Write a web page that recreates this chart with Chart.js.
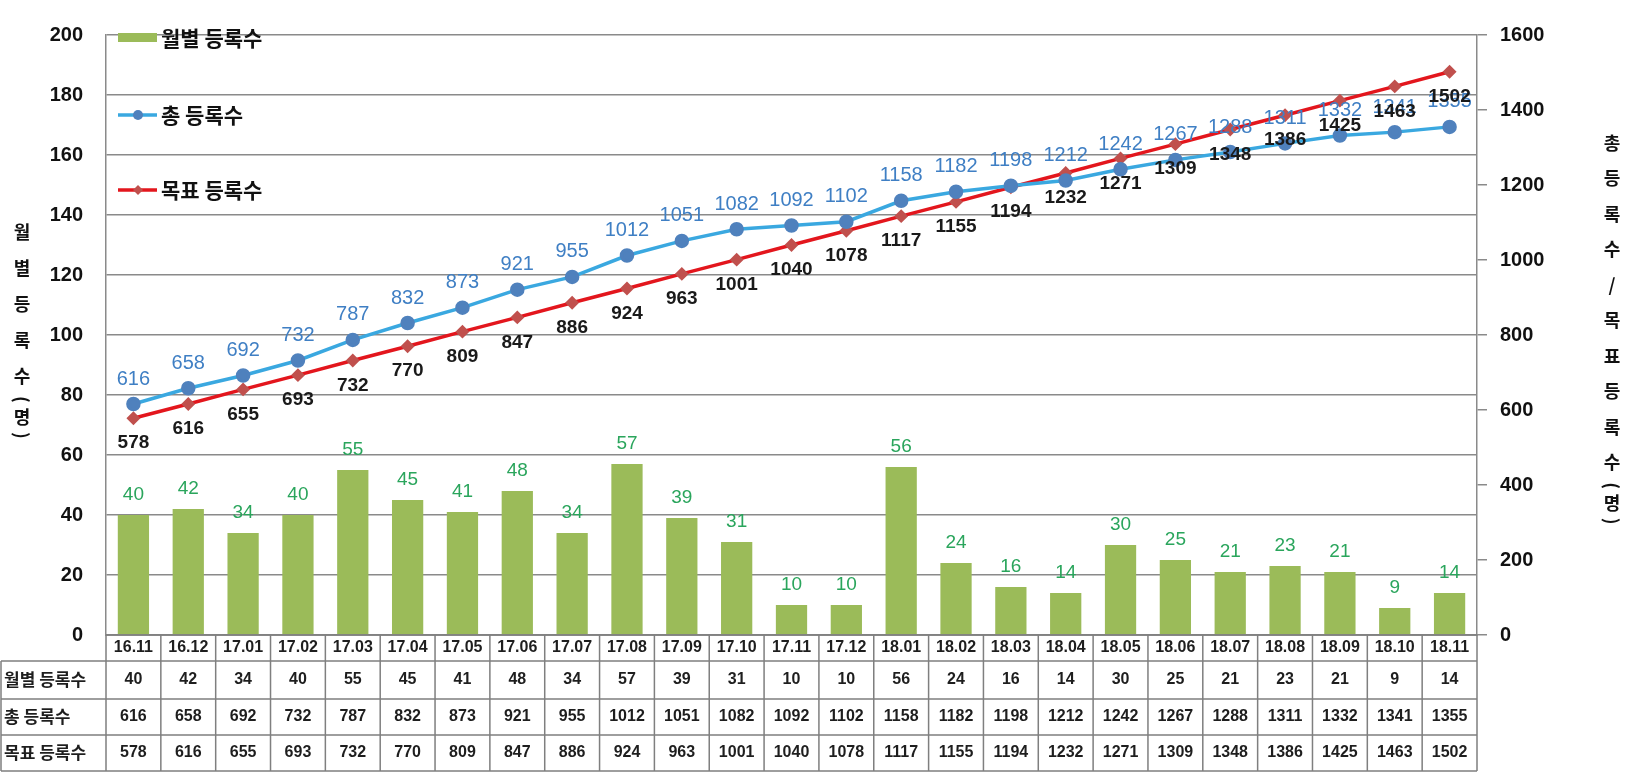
<!DOCTYPE html>
<html>
<head>
<meta charset="utf-8">
<script src="https://cdn.jsdelivr.net/npm/chart.js@4.4.0/dist/chart.umd.min.js"></script>
<style>
  body { margin: 0; background: #fff; }
  .chartBox { width: 1633px; height: 772px; position: relative; }
</style>
</head>
<body>
<div class="chartBox"><canvas id="myChart"></canvas></div>
<script>
const months = ['16.11', '16.12', '17.01', '17.02', '17.03', '17.04', '17.05', '17.06', '17.07', '17.08', '17.09', '17.10', '17.11', '17.12',
    '18.01', '18.02', '18.03', '18.04', '18.05', '18.06', '18.07', '18.08', '18.09', '18.10', '18.11'];
const monthly = [40, 42, 34, 40, 55, 45, 41, 48, 34, 57, 39, 31, 10, 10, 56, 24, 16, 14, 30, 25, 21, 23, 21, 9, 14];
const total = [616, 658, 692, 732, 787, 832, 873, 921, 955, 1012, 1051, 1082, 1092, 1102, 1158, 1182, 1198, 1212, 1242, 1267, 1288, 1311, 1332, 1341, 1355];
const target = [578, 616, 655, 693, 732, 770, 809, 847, 886, 924, 963, 1001, 1040, 1078, 1117, 1155, 1194, 1232, 1271, 1309, 1348, 1386, 1425, 1463, 1502];
const seriesNames = ['월별 등록수', '총 등록수', '목표 등록수'];
const leftTitle = '월별등록수(명)';
const rightTitle = '총등록수/목표등록수(명)';

const numFont = '"Liberation Sans", Arial, sans-serif';
const korFont = '"Noto Sans CJK KR", "Noto Sans", sans-serif';
const gridColor = '#8a8a8a';
const greenBar = '#9bbb59';
const blueLine = '#3aa8e0';
const blueMark = '#4f81bd';
const redLine = '#e3161d';
const redMark = '#c0504d';

// vertical title, one character under the other, brackets turned sideways
function drawStacked(ctx, text, x, y, step) {
    ctx.save();
    ctx.font = 'bold 18px ' + korFont;
    ctx.fillStyle = '#111';
    ctx.textAlign = 'center';
    ctx.textBaseline = 'middle';
    let prev = null;
    for (const ch of text) {
        if (prev !== null) {
            if (ch === '(') y += step * 0.65;
            else if (prev === '(' || ch === ')') y += step * 0.5;
            else y += step;
        }
        if (ch === '(' || ch === ')') {
            ctx.save();
            ctx.translate(x, y);
            ctx.rotate(Math.PI / 2);
            ctx.fillText(ch, 0, 0);
            ctx.restore();
        } else {
            ctx.fillText(ch, x, y);
        }
        prev = ch;
    }
    ctx.restore();
}

const extras = {
    id: 'extras',
    afterDatasetsDraw(chart) {
        const ctx = chart.ctx;
        const area = chart.chartArea;
        const xs = chart.scales.x;

        // data labels
        ctx.save();
        ctx.textAlign = 'center';
        ctx.textBaseline = 'middle';
        const barMeta = chart.getDatasetMeta(0);
        ctx.font = '19px ' + numFont;
        ctx.fillStyle = '#2aa55c';
        barMeta.data.forEach((el, i) => ctx.fillText(monthly[i], el.x, el.y - 20));
        const blueMeta = chart.getDatasetMeta(1);
        ctx.font = '20px ' + numFont;
        ctx.fillStyle = '#3f7fc4';
        blueMeta.data.forEach((el, i) => ctx.fillText(total[i], el.x, el.y - 25));
        const redMeta = chart.getDatasetMeta(2);
        ctx.font = 'bold 19px ' + numFont;
        ctx.fillStyle = '#1a1a1a';
        redMeta.data.forEach((el, i) => ctx.fillText(target[i], el.x, el.y + 25));
        ctx.restore();

        // legend inside plot
        ctx.save();
        ctx.font = 'bold 21px ' + korFont;
        ctx.textBaseline = 'middle';
        ctx.fillStyle = greenBar;
        ctx.fillRect(118, 33, 39, 9);
        ctx.fillStyle = '#111';
        ctx.fillText(seriesNames[0], 161, 38);
        [[115, blueLine, blueMark, 1], [190, redLine, redMark, 2]].forEach(([y, lc, mc, k]) => {
            ctx.strokeStyle = lc;
            ctx.lineWidth = 3.5;
            ctx.beginPath();
            ctx.moveTo(118, y);
            ctx.lineTo(157, y);
            ctx.stroke();
            ctx.fillStyle = mc;
            ctx.beginPath();
            if (k === 1) {
                ctx.arc(138, y, 5, 0, Math.PI * 2);
            } else {
                ctx.moveTo(138, y - 5); ctx.lineTo(143, y); ctx.lineTo(138, y + 5); ctx.lineTo(133, y);
                ctx.closePath();
            }
            ctx.fill();
            ctx.fillStyle = '#111';
            ctx.fillText(seriesNames[k], 161, y);
        });
        ctx.restore();

        // axis titles
        drawStacked(ctx, leftTitle, 22, 232, 36);
        drawStacked(ctx, rightTitle, 1612, 143, 35.5);

        // data table under the plot
        const colW = xs.getPixelForValue(1) - xs.getPixelForValue(0);
        const rowsY = [area.bottom, 661, 699, 735, 771];
        ctx.save();
        ctx.strokeStyle = '#7f7f7f';
        ctx.lineWidth = 1.5;
        ctx.beginPath();
        ctx.moveTo(area.left, rowsY[0]);
        ctx.lineTo(area.right, rowsY[0]);
        for (let r = 1; r < rowsY.length; r++) {
            ctx.moveTo(1, rowsY[r]);
            ctx.lineTo(area.right, rowsY[r]);
        }
        for (let i = 0; i <= months.length; i++) {
            const x = area.left + i * colW;
            ctx.moveTo(x, rowsY[0]);
            ctx.lineTo(x, rowsY[4]);
        }
        ctx.moveTo(1, rowsY[1]);
        ctx.lineTo(1, rowsY[4]);
        ctx.stroke();

        ctx.fillStyle = '#1e1e1e';
        ctx.textAlign = 'center';
        ctx.textBaseline = 'middle';
        ctx.font = 'bold 16px ' + numFont;
        const rowsData = [months, monthly, total, target];
        rowsData.forEach((arr, r) => {
            const yc = (rowsY[r] + rowsY[r + 1]) / 2;
            arr.forEach((v, i) => ctx.fillText(v, xs.getPixelForValue(i), yc));
        });
        ctx.textAlign = 'left';
        ctx.font = 'bold 17px ' + korFont;
        seriesNames.forEach((name, r) => {
            ctx.fillText(name, 4, (rowsY[r + 1] + rowsY[r + 2]) / 2);
        });
        ctx.restore();
    }
};

const ctx = document.getElementById('myChart');
new Chart(ctx, {
    type: 'bar',
    data: {
        labels: months,
        datasets: [
            {
                label: seriesNames[0],
                data: monthly,
                backgroundColor: greenBar,
                yAxisID: 'y',
                barPercentage: 0.57,
                categoryPercentage: 1,
                order: 3
            },
            {
                type: 'line',
                label: seriesNames[1],
                data: total,
                borderColor: blueLine,
                borderWidth: 3.5,
                pointRadius: 5.5,
                pointBackgroundColor: blueMark,
                pointBorderColor: blueMark,
                yAxisID: 'y1',
                tension: 0,
                order: 1
            },
            {
                type: 'line',
                label: seriesNames[2],
                data: target,
                borderColor: redLine,
                borderWidth: 3.5,
                pointStyle: 'rectRot',
                pointRadius: 4.5,
                pointBackgroundColor: redMark,
                pointBorderColor: redMark,
                yAxisID: 'y1',
                tension: 0,
                order: 2
            }
        ]
    },
    options: {
        responsive: true,
        maintainAspectRatio: false,
        animation: false,
        layout: { padding: { top: 16, left: 0, right: 0, bottom: 0 } },
        plugins: {
            legend: { display: false },
            tooltip: { enabled: false }
        },
        scales: {
            x: {
                offset: true,
                ticks: { display: false },
                grid: { display: false },
                border: { color: gridColor, width: 1.5 },
                afterFit(scale) { scale.height = 137; }
            },
            y: {
                position: 'left',
                min: 0,
                max: 200,
                ticks: {
                    stepSize: 20,
                    padding: 23,
                    color: '#111',
                    font: { family: numFont, size: 20, weight: 'bold' }
                },
                grid: { color: gridColor, lineWidth: 1.5, drawTicks: false },
                border: { color: gridColor, width: 1.5 },
                afterFit(scale) { scale.width = 106; }
            },
            y1: {
                position: 'right',
                min: 0,
                max: 1600,
                ticks: {
                    stepSize: 200,
                    padding: 13,
                    color: '#111',
                    font: { family: numFont, size: 20, weight: 'bold' },
                    callback: (v) => String(v)
                },
                grid: { drawOnChartArea: false, color: gridColor, lineWidth: 1.5, tickLength: 10 },
                border: { color: gridColor, width: 1.5 },
                afterFit(scale) { scale.width = 156; }
            }
        }
    },
    plugins: [extras]
});
</script>
</body>
</html>
